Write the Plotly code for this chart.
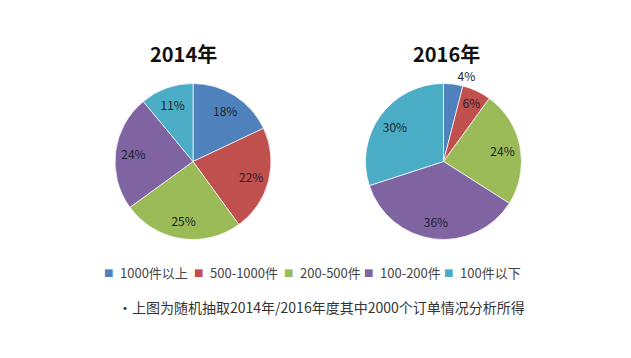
import plotly.graph_objects as go

categories = ["1000件以上", "500-1000件", "200-500件", "100-200件", "100件以下"]
values_2014 = [18, 22, 25, 24, 11]
values_2016 = [4, 6, 24, 36, 30]
titles = ["2014年", "2016年"]
colors = ["#4F81BD", "#C0504D", "#9BBB59", "#8064A2", "#4BACC6"]
note = "·上图为随机抽取2014年/2016年度其中2000个订单情况分析所得"

W, H = 631, 358
OFF = 8  # default page margin of the html body
font_family = "Noto Sans CJK SC, Noto Sans, sans-serif"
label_font = dict(size=12, color="#22222e", family=font_family)


def px_x(p):
    return (p - OFF) / W


def px_y(p):
    return 1 - (p - OFF) / H


def dom(cx, cy, r):
    return dict(x=[px_x(cx - r), px_x(cx + r)], y=[px_y(cy + r), px_y(cy - r)])


pies = [
    (values_2014, dom(193, 161.5, 78), ["inside"] * 5),
    (values_2016, dom(443.5, 161.5, 78), ["outside", "inside", "inside", "inside", "inside"]),
]

fig = go.Figure()
for vals, d, tpos in pies:
    # coloured slices
    fig.add_trace(go.Pie(
        labels=categories, values=vals, sort=False, direction="clockwise", rotation=0,
        marker=dict(colors=colors, line=dict(color="rgba(255,255,255,0.7)", width=1)),
        textinfo="none", domain=d, showlegend=False, hoverinfo="label+percent",
    ))
    # percentage labels (placed in the outer ring like the original)
    fig.add_trace(go.Pie(
        labels=categories, values=vals, sort=False, direction="clockwise", rotation=0,
        hole=0.54,
        marker=dict(colors=["rgba(0,0,0,0)"] * 5, line=dict(width=0)),
        texttemplate="%{value}%", textinfo="text", textposition=tpos,
        insidetextorientation="horizontal",
        textfont=label_font, insidetextfont=label_font, outsidetextfont=label_font,
        domain=d, showlegend=False, hoverinfo="skip",
    ))

for t, cx in zip(titles, [183, 446]):
    fig.add_annotation(text="<b>" + t + "</b>", x=px_x(cx), y=px_y(53), xref="paper", yref="paper",
                       xanchor="center", yanchor="middle", showarrow=False,
                       font=dict(size=20, color="#111", family=font_family))
fig.add_annotation(text=note, x=px_x(321), y=px_y(307), xref="paper", yref="paper",
                   xanchor="center", yanchor="middle", showarrow=False,
                   font=dict(size=14, color="#333", family=font_family))

# legend row (compact, like the original Excel legend)
legend_text_x = [118, 208, 298, 378, 458]
for cat, col, tx in zip(categories, colors, legend_text_x):
    fig.add_annotation(text="■", x=px_x(tx - 3), y=px_y(272), xref="paper", yref="paper",
                       xanchor="right", yanchor="middle", showarrow=False,
                       font=dict(size=10, color=col, family="DejaVu Sans"))
    fig.add_annotation(text=cat, x=px_x(tx), y=px_y(272), xref="paper", yref="paper",
                       xanchor="left", yanchor="middle", showarrow=False,
                       font=dict(size=13, color="#444", family=font_family))

fig.update_layout(
    width=W, height=H, margin=dict(l=0, r=0, t=0, b=0),
    paper_bgcolor="white", plot_bgcolor="white", showlegend=False,
)

fig.write_html("out.html")
